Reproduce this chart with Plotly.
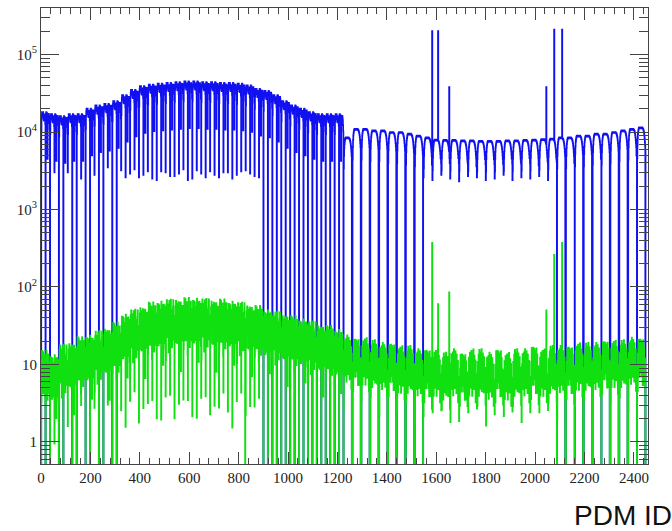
import numpy as np
import plotly.graph_objects as go

# ---- data -----------------------------------------------------------------
MODULE_SIZE = 36          # PDMs per readout module
N_MODULES = 68

# per-module maximum of the blue (all hits) histogram
blue_peak = [
    1.8e4, 1.7e4, 1.6e4, 1.7e4, 1.7e4, 2.0e4, 2.2e4, 2.3e4, 2.5e4,
    3.0e4, 3.5e4, 3.9e4, 4.1e4, 4.2e4, 4.3e4, 4.4e4, 4.5e4, 4.5e4,
    4.4e4, 4.4e4, 4.3e4, 4.3e4, 4.2e4, 4.0e4, 3.6e4,
    3.4e4, 3.0e4, 2.5e4, 2.2e4, 2.0e4, 1.8e4, 1.7e4, 1.7e4, 1.7e4,
    8.5e3, 1.1e4, 1.1e4, 1.05e4, 1.05e4, 1.0e4, 1.0e4, 9.5e3, 9.0e3,
    8.5e3,
    8.0e3, 7.9e3, 7.9e3, 7.8e3, 7.8e3, 7.7e3, 7.7e3, 7.7e3, 7.8e3,
    7.8e3, 7.9e3, 8.0e3, 8.1e3, 8.2e3,
    8.5e3, 8.5e3, 9.0e3, 9.0e3, 9.5e3, 9.5e3, 1.0e4, 1.05e4, 1.1e4, 1.15e4,
]

# content of the first PDM of each module (0 = empty channel)
blue_edge = [
    0, 0, 0, 3000, 0, 0, 2800, 0, 0,
    3200, 2900, 2600, 3100, 2400, 3000, 2700, 3300, 2500, 2900, 3100,
    2600, 3000, 2800, 3200, 2700,
    0, 0, 0, 0, 0, 0, 0, 0, 0,
    0, 0, 0, 0, 0, 0, 0, 0, 0,
    2600, 2400, 2800, 2500, 2300, 2700, 2600, 2400, 2500, 2800, 2400,
    2600, 2500, 2700, 2400,
    0, 0, 0, 0, 0, 0, 0, 0, 0, 0,
]

# content of the second boundary PDM of each module (0 = empty channel)
blue_edge2 = [
    0, 3000, 0, 0, 2500, 0, 0, 3500, 0,
    2600, 3300, 2800, 2500, 3100, 2700, 2900, 2400, 3200, 2600, 2800,
    3000, 2500, 3100, 2900, 2600,
    0, 0, 0, 0, 0, 0, 0, 0, 0,
    0, 0, 0, 0, 0, 0, 0, 0, 0,
    3800, 4500, 4000, 5000, 4200, 3600, 4800, 4400, 3900, 4600, 4100,
    4700, 3700, 4300, 4500,
    0, 4000, 0, 0, 4500, 0, 0, 0, 5000, 0,
]

# module layout type: A = older boards, B = newer boards
module_type = "A" * 34 + "B" * 34
EDGE2_CHANNEL = {"A": 18, "B": 34}

# relative channel response inside a module (boundary channels replaced)
profile_a = [0, 0.55, 0.8, 0.92, 1.0, 0.95, 0.88, 0.97, 1.0, 0.92, 0.85,
             0.8, 0.78, 0.8, 0.86, 0.9, 0.94, 0.7, 0, 0.92, 0.97, 1.0, 0.94,
             0.98, 0.92, 0.87, 0.25, 0.84, 0.86, 0.9, 0.93, 0.95, 0.9, 0.84,
             0.72, 0.6]
profile_b = [0, 0.4, 0.58, 0.72, 0.82, 0.88, 0.93, 0.96, 0.98, 0.99, 1.0,
             0.99, 1.0, 0.98, 0.97, 0.99, 1.0, 0.98, 0.97, 0.99, 1.0, 0.99,
             0.98, 0.97, 0.96, 0.95, 0.93, 0.9, 0.87, 0.83, 0.78, 0.72, 0.65,
             0.58, 0, 0.5]

# typical level of the green (selected hits) histogram per module
green_level = [
    10, 9, 12, 13, 15, 16, 18, 20, 23,
    30, 34, 38, 42, 44, 46, 47, 48, 48, 47, 46, 46, 44, 42, 40, 38,
    34, 32, 30, 28, 26, 24, 22, 21, 19,
    15, 14, 14, 13, 12, 12, 11, 11, 10,
    10,
    10, 9, 10, 9, 10, 10, 9, 10, 9, 10, 10, 11, 10, 11,
    11, 11, 12, 12, 12, 13, 13, 13, 14, 14,
]

# channel-to-channel fluctuation of the green histogram (four board variants)
green_fluct = [
    [1.0, 0.6, 1.4, 0.8, 1.5, 0.45, 1.2, 0.9, 1.45, 0.7, 0.5, 1.3, 1.0, 0.75,
     1.55, 0.6, 1.1, 0.4, 1.35, 0.85, 1.2, 0.65, 1.6, 0.8, 0.5, 1.0, 1.4, 0.6,
     1.2, 0.8, 1.45, 0.45, 1.0, 1.3, 0.7, 0.9],
    [0.8, 1.3, 0.5, 1.5, 0.9, 1.1, 0.6, 1.4, 0.4, 1.2, 1.55, 0.7, 0.9, 1.45,
     0.5, 1.1, 0.8, 1.4, 0.6, 1.6, 0.45, 1.0, 0.8, 1.3, 1.45, 0.6, 0.9, 1.2,
     0.5, 1.5, 0.7, 1.1, 1.4, 0.8, 1.0, 0.6],
    [1.2, 0.45, 1.0, 1.4, 0.7, 1.55, 0.9, 0.5, 1.3, 1.0, 0.8, 1.45, 0.4, 1.2,
     0.9, 1.6, 0.6, 1.0, 1.4, 0.5, 1.1, 1.5, 0.7, 0.9, 1.2, 0.45, 1.45, 0.8,
     1.0, 0.6, 1.3, 1.55, 0.5, 1.1, 0.8, 1.4],
    [0.7, 1.45, 0.9, 0.45, 1.2, 0.8, 1.6, 1.0, 0.6, 1.4, 0.9, 0.5, 1.5, 0.7,
     1.1, 0.8, 1.45, 0.6, 1.0, 1.3, 0.5, 0.9, 1.4, 0.4, 1.1, 1.55, 0.7, 1.0,
     1.4, 0.8, 0.5, 1.2, 0.9, 1.45, 0.6, 1.1],
]

# hot PDMs
hot_pdm = [1583, 1607, 1652, 2045, 2077, 2109]
hot_blue = [2.0e5, 2.0e5, 3.8e4, 3.8e4, 2.1e5, 2.1e5]
hot_green = [370, 60, 85, 50, 260, 370]

# PDMs empty only in the green selection
green_dead_pdm = [826]

# ---- histogram contents -----------------------------------------------------
blue, green = [], []
for m in range(N_MODULES):
    kind = module_type[m]
    prof = profile_a if kind == "A" else profile_b
    fl = green_fluct[m % 4]
    for k in range(MODULE_SIZE):
        if k == 0:
            b = blue_edge[m]
        elif k == EDGE2_CHANNEL[kind]:
            b = blue_edge2[m]
        else:
            b = blue_peak[m] * prof[k]
        blue.append(b)
        green.append(green_level[m] * b / blue_peak[m] * fl[k])
blue = np.array(blue, dtype=float)
green = np.array(green, dtype=float)
for p, vb, vg in zip(hot_pdm, hot_blue, hot_green):
    blue[p] = vb
    green[p] = vg
green[green_dead_pdm] = 0.0

pdm = np.arange(blue.size) + 0.5
EMPTY = 1e-3  # empty bins are drawn down past the bottom of the frame
blue_y = np.where(blue > 0, blue, EMPTY)
green_y = np.where(green > 0, green, EMPTY)

# ---- figure -------------------------------------------------------------------
fig = go.Figure()
fig.add_trace(go.Scatter(x=pdm, y=blue_y, mode="lines",
                         line=dict(color="#1010f0", width=1.7, shape="hvh"),
                         hoverinfo="skip"))
fig.add_trace(go.Scatter(x=pdm, y=green_y, mode="lines",
                         line=dict(color="#10e010", width=1.7, shape="hvh"),
                         hoverinfo="skip"))

tick_font = dict(family="Liberation Serif", size=15, color="#222")
decades = [1, 10, 100, 1e3, 1e4, 1e5]
minor_vals = [d * f for d in [0.1] + decades for f in range(2, 10)]

fig.update_xaxes(
    range=[0, 2457], showline=True, linecolor="#444", linewidth=1,
    mirror="allticks", ticks="inside", ticklen=12, tickcolor="#444",
    tickmode="linear", tick0=0, dtick=200, showgrid=False, zeroline=False,
    tickfont=tick_font,
    minor=dict(ticks="inside", ticklen=6, dtick=40, tick0=0, tickcolor="#444",
               showgrid=False),
)
fig.update_yaxes(
    type="log", range=[-0.284, 5.6], showline=True, linecolor="#444",
    linewidth=1, mirror="allticks", ticks="inside", ticklen=18,
    tickcolor="#444", tickmode="array", tickvals=decades,
    ticktext=["1", "10", "10<sup>2</sup>", "10<sup>3</sup>", "10<sup>4</sup>",
              "10<sup>5</sup>"],
    showgrid=False, zeroline=False, tickfont=tick_font,
    minor=dict(ticks="inside", ticklen=9, tickmode="array",
               tickvals=minor_vals, tickcolor="#444", showgrid=False),
)

fig.add_annotation(text="PDM ID", xref="paper", yref="paper", x=1.043,
                   y=-0.112, xanchor="right", yanchor="middle",
                   showarrow=False,
                   font=dict(family="Liberation Sans", size=28, color="#111"))

fig.update_layout(
    width=672, height=531, margin=dict(l=41, r=24, t=8, b=67),
    paper_bgcolor="white", plot_bgcolor="white", showlegend=False,
)
fig.write_html("out.html")
